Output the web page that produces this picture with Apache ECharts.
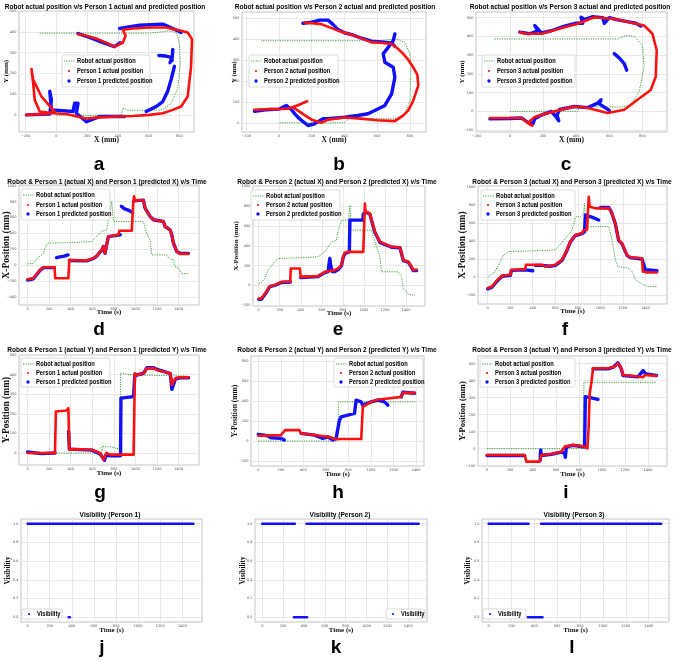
<!DOCTYPE html>
<html><head><meta charset="utf-8">
<script src="https://cdn.jsdelivr.net/npm/echarts@6/dist/echarts.min.js"></script>
<style>html,body{margin:0;padding:0;background:#fff}#c{width:685px;height:661px}</style>
</head><body><div id="c"></div>
<script>
// ---------- tick labels ----------
const X_TICKS_XY = [-200, 0, 200, 400, 600, 800];
const Y_TICKS_XY_AB = [0, 100, 200, 300, 400, 500];
const Y_TICKS_XY_C = [-100, 0, 100, 200, 300, 400, 500];
const T_TICKS = [0, 200, 400, 600, 800, 1000, 1200, 1400];
const XPOS_TICKS_D = [-400, -200, 0, 200, 400, 600, 800, 1000];
const XPOS_TICKS_EF = [-200, 0, 200, 400, 600, 800, 1000];
const YPOS_TICKS_G = [0, 100, 200, 300, 400, 500];
const YPOS_TICKS_H = [-200, 0, 200, 400, 600, 800];
const YPOS_TICKS_I = [-100, 0, 100, 200, 300, 400, 500];
const VIS_TICKS = [0, 0.2, 0.4, 0.6, 0.8, 1.0];

// ---------- panel a/b/c : X-Y trajectories ----------
const robotXY_a = [[0,0],[420,0],[432,34],[470,24],[692,26],[746,58],[790,130],[806,250],[800,340],[785,390],[765,400],[730,405],[690,400],[600,394],[300,394],[-108,394]];
const p1ActualXY = [[-195,2],[-65,6],[-11,18],[-97,90],[-151,171],[-162,222],[-151,155],[-141,74],[-108,18],[-22,10],[65,6],[162,-10],[195,-15],[281,-10],[389,-6],[497,-3],[605,2],[692,10],[757,26],[811,42],[854,90],[876,235],[882,365],[854,397],[811,405],[713,421],[605,421],[497,416],[432,410],[450,381],[432,348],[378,329],[324,348],[259,368],[195,381],[141,389]];
const p1PredXY = [[-195,2],[-43,6],[-32,74],[-43,115],[-32,26],[108,18],[119,58],[141,58],[130,10],[195,-31],[281,-6],[443,-6],null,
  [584,18],[649,42],[692,66],[724,115],[746,171],[768,235],null,
  [666,287],[713,284],[752,276],[739,252],null,[752,262],[757,316],null,
  [411,416],[541,432],[692,437],[757,416],[811,397],null,
  [141,392],[216,373],[303,348],[378,329],[415,348]];

const robotXY_b = [[4,0],[402,0],[443,35],[470,20],[708,19],[769,43],[800,106],[806,265],[800,329],[769,384],[718,400],[606,392],[-108,392]];
const p2ActualXY = [[-149,62],[-50,65],[55,67],[120,85],[172,103],[120,85],[86,75],[150,40],[200,15],[259,0],[300,15],[402,25],[500,20],[600,12],[708,8],[760,35],[790,59],[820,106],[851,178],[845,230],[820,265],[790,300],[759,329],[729,352],[688,376],[620,382],[565,384],[463,416],[361,440],[259,471],[157,479]];
const p2PredXY = [[-149,55],[-80,62],[0,65],[45,83],[80,60],[100,40],[116,27],[140,10],[178,-13],[218,-5],[269,20],[300,20],[402,27],[480,35],[545,43],[647,83],[688,138],[708,217],[698,265],[647,289],[637,329],[667,360],[698,392],[708,424],null,
  [708,365],[690,380],[640,385],[565,390],[500,405],[450,420],[400,430],[361,445],[330,470],[300,490],[250,490],[200,480],[147,475]];

const robotXY_c = [[0,0],[410,0],[420,26],[670,23],[730,35],[780,105],[810,238],[800,352],[750,400],[700,405],[650,386],[-100,386]];
const p3ActualXY = [[-120,-35],[0,-35],[70,-35],[100,-55],[120,-70],[136,-76],[110,-60],[150,-30],[190,-18],[270,0],[390,26],[470,18],[590,-9],[690,9],[770,62],[850,114],[880,185],[886,326],[860,414],[810,458],[750,470],[630,493],[510,502],[410,467],[330,449],[190,414],[90,414],[60,423]];
const p3PredXY = [[-120,-40],[0,-38],[70,-35],[110,-60],[140,-65],[150,-40],[190,-20],[250,0],[280,-30],[295,-50],[285,-20],[300,10],[390,26],[470,20],[530,44],[550,62],[540,40],[600,5],null,
  [630,308],[660,285],[690,255],[705,220],null,
  [790,455],[760,470],[700,480],[640,490],[600,500],[570,470],[560,500],[500,505],[450,490],[430,502],[440,470],[400,470],[330,455],[250,430],[190,418],[150,458],[170,430],[120,414],[60,423]];

// ---------- panel d/e/f : X position vs time ----------
const robot1X_t = [[0,17],[53,25],[99,101],[145,143],[161,215],[186,278],[400,285],[594,299],[641,362],[687,425],[734,446],[749,573],[780,804],[796,551],[1074,551],[1105,404],[1136,320],[1152,130],[1291,130],[1322,76],[1353,76],[1368,-17],[1399,-38],[1430,-101],[1492,-109]];
const p1ActualX_t = [[0,-177],[53,-164],[115,-59],[146,-25],[250,-25],[256,-164],[378,-164],[387,67],[548,59],[610,88],[641,118],[687,194],[703,236],[718,152],[749,362],[765,383],[842,383],[851,434],[966,434],[981,804],[987,867],[997,817],[1074,817],[1090,720],[1136,615],[1167,573],[1260,551],[1275,488],[1322,446],[1337,383],[1353,278],[1384,173],[1415,143],[1492,143]];
const p1PredX_t = [[0,-185],[53,-170],[115,-65],[146,-30],[250,-30],null,[269,95],[300,105],[340,115],[375,130],null,[387,60],[548,55],[610,85],[641,115],[687,190],[703,236],[718,150],[749,360],[765,380],[842,380],[860,383],null,[870,742],[900,710],[940,690],[975,665],null,[985,810],[1074,820],[1090,720],[1136,615],[1167,573],[1260,551],[1275,488],[1322,446],[1337,383],[1353,278],[1384,173],[1415,150],[1492,150]];

const robot2X_t = [[0,20],[25,27],[57,71],[89,155],[137,222],[184,272],[400,280],[565,289],[629,339],[692,440],[740,457],[756,558],[787,659],[855,659],[867,810],[876,558],[1073,558],[1105,440],[1152,289],[1168,138],[1327,138],[1359,87],[1375,-30],[1422,-87],[1486,-101]];
const p2ActualX_t = [[0,-131],[25,-131],[73,-64],[105,-7],[152,3],[184,20],[216,37],[300,37],[305,171],[391,171],[400,87],[565,94],[629,138],[724,155],[756,171],[787,205],[803,289],[819,329],[851,339],[994,339],[1010,827],[1016,743],[1057,726],[1073,659],[1105,541],[1137,474],[1152,440],[1264,390],[1343,383],[1375,255],[1422,239],[1454,188],[1470,155],[1502,161]];
const p2PredX_t = [[0,-140],[25,-140],[73,-70],[105,-12],[152,0],[184,15],[216,30],[300,35],null,[400,80],[565,90],[629,130],[660,140],[672,150],[676,272],[685,200],[700,140],[724,140],[756,160],[787,200],[803,280],[819,320],[840,330],[862,340],[867,659],[990,659],[995,720],[1016,740],[1057,720],[1073,655],[1105,535],[1137,470],[1152,435],[1264,385],[1343,380],[1375,250],[1422,235],[1454,180],[1470,150],[1502,150]];

const robot3X_t = [[0,0],[9,15],[53,44],[98,136],[142,246],[186,283],[400,290],[601,301],[645,367],[689,429],[749,521],[784,668],[823,668],[850,700],[861,815],[867,558],[1074,558],[1104,411],[1133,191],[1157,117],[1252,99],[1281,62],[1311,-29],[1355,-66],[1414,-103],[1503,-103]];
const p3ActualX_t = [[0,-121],[38,-103],[83,-37],[127,15],[201,26],[210,81],[334,88],[340,136],[482,136],[512,117],[556,125],[601,136],[660,191],[704,301],[734,393],[778,466],[837,484],[852,521],[882,521],[897,888],[905,778],[956,760],[1074,760],[1104,705],[1133,595],[1163,411],[1192,374],[1237,246],[1266,220],[1370,209],[1378,62],[1414,51],[1503,51]];
const p3PredX_t = [[0,-130],[38,-110],[83,-45],[127,10],[201,20],[210,75],[334,80],[340,75],[400,70],null,[420,130],[482,130],[556,120],[601,130],[660,185],[704,295],[734,390],[778,460],[837,480],[860,500],[867,686],[930,660],[985,631],null,[1000,770],[1074,770],[1090,740],[1104,700],[1133,590],[1163,405],[1192,370],[1237,240],[1266,215],[1370,200],[1385,191],[1400,81],[1414,70],[1503,70]];

// ---------- panel g/h/i : Y position vs time ----------
const robot1Y_t = [[0,0],[688,0],[690,34],[780,30],[859,20],[862,407],[983,398],[1479,393]];
const p1ActualY_t = [[0,0],[254,0],[262,212],[363,217],[378,229],[387,17],[409,20],[595,17],[611,8],[673,0],[704,-34],[729,0],[766,-8],[983,-8],[995,407],[1014,398],[1076,407],[1107,432],[1169,432],[1200,424],[1262,415],[1324,407],[1339,347],[1371,381],[1417,386],[1494,386]];
const p1PredY_t = [[0,5],[130,-3],[254,0],null,[380,110],[387,20],[595,15],[673,-5],[713,-37],[729,-10],[766,-14],[862,-14],[866,280],[983,288],[995,400],[1014,398],[1076,407],[1107,435],[1169,435],[1200,426],[1262,417],[1324,405],[1339,325],[1371,378],[1417,384],[1494,384]];

const robot2Y_t = [[0,0],[705,0],[711,393],[1401,393]];
const p2ActualY_t = [[0,53],[201,60],[237,110],[364,110],[379,77],[498,60],[616,43],[646,37],[676,20],[913,20],[927,343],[942,360],[1001,393],[1061,417],[1150,427],[1268,443],[1283,483],[1387,483]];
const p2PredY_t = [[0,67],[83,53],[112,33],[201,27],[231,10],null,[379,77],[498,60],[572,27],[616,43],[661,10],[690,27],[720,210],[735,243],[853,277],[868,410],[913,393],[927,360],[942,360],[1001,393],[1061,410],[1120,393],[1150,360],null,[1268,443],[1283,490],[1387,480]];

const robot3Y_t = [[0,0],[835,0],[843,390],[1467,390]];
const p3ActualY_t = [[0,-37],[328,-37],[342,-76],[458,-76],[473,-37],[560,-31],[646,-18],[676,12],[748,22],[849,12],[873,2],[884,129],[893,326],[907,384],[922,473],[1052,473],[1110,482],[1139,502],[1168,473],[1183,433],[1313,424],[1357,420],[1371,433],[1473,428]];
const p3PredY_t = [[0,-40],[328,-40],null,[462,-70],[467,-8],[473,-40],[560,-33],[646,-20],[676,-27],[681,-51],[690,10],[748,20],[849,10],[855,306],[965,290],null,[922,470],[1052,470],[1100,480],[1139,505],[1168,470],[1183,430],[1313,422],[1357,459],[1380,440],[1473,430]];

// ---------- panel j/k/l : visibility (start, end, value) ----------
const vis1 = [[0,1500,1],[372,382,0]];
const vis2 = [[0,312,1],[303,430,0],[424,1500,1]];
const vis3 = [[0,349,1],[343,471,0],[459,1510,1]];

// ---------- text ----------
const LETTERS = ['a','b','c','d','e','f','g','h','i','j','k','l'];
const TITLES = [
 'Robot actual position v/s Person 1 actual and predicted position',
 'Robot actual position v/s Person 2 actual and predicted position',
 'Robot actual position v/s Person 3 actual and predicted position',
 'Robot & Person 1 (actual X) and Person 1 (predicted X) v/s Time',
 'Robot & Person 2 (actual X) and Person 2 (predicted X) v/s Time',
 'Robot & Person 3 (actual X) and Person 3 (predicted X) v/s Time',
 'Robot & Person 1 (actual Y) and Person 1 (predicted Y) v/s Time',
 'Robot & Person 2 (actual Y) and Person 2 (predicted Y) v/s Time',
 'Robot & Person 3 (actual Y) and Person 3 (predicted Y) v/s Time',
 'Visibility (Person 1)','Visibility (Person 2)','Visibility (Person 3)'];

// ---------- styling / layout ----------
const SANS = '"Liberation Sans",Arial,sans-serif';
const SERIF = '"Liberation Serif","DejaVu Serif",serif';
const RED = '#ff1010', BLUE = '#1010ff', GREEN = '#3f9f3f';

const P = [
 {l:19,t:11,w:175,h:121,x:[-243,895],y:[-80,500],xt:X_TICKS_XY,yt:Y_TICKS_XY_AB,xn:'X (mm)',yn:'Y (mm)',xf:7.5,yf:7,xg:4,yg:9,tx:105,ty:7,lg:[62,55,88,32],lx:99,ly:165},
 {l:242,t:12,w:184,h:120,x:[-225,898],y:[-44,529],xt:X_TICKS_XY,yt:Y_TICKS_XY_AB,xn:'X (mm)',yn:'Y (mm)',xf:7.5,yf:6.5,xg:4,yg:4,tx:335,ty:7,lg:[249,55,89,32],lx:339,ly:165},
 {l:476,t:12,w:191,h:120,x:[-204,948],y:[-110,530],xt:X_TICKS_XY,yt:Y_TICKS_XY_C,xn:'X (mm)',yn:'Y (mm)',xf:7.5,yf:7,xg:4,yg:10,tx:570,ty:7,lg:[482,55,93,32],lx:566,ly:165},
 {l:19,t:185,w:180,h:120,x:[-80,1590],y:[-500,1010],xt:T_TICKS,yt:XPOS_TICKS_D,xn:'Time (s)',yn:'X-Position (mm)',xf:7,yf:9.5,xg:4,yg:7,tx:107,ty:182,lg:[21,189,89,31],lx:99,ly:330},
 {l:253,t:186,w:172,h:120,x:[-54,1581],y:[-207,1003],xt:T_TICKS,yt:XPOS_TICKS_EF,xn:'Time (s)',yn:'X-Position (mm)',xf:7,yf:7,xg:4,yg:13,tx:337,ty:182,lg:[251,190,89,30],lx:338,ly:330},
 {l:478,t:186,w:189,h:118,x:[-86,1592],y:[-297,1007],xt:T_TICKS,yt:XPOS_TICKS_EF,xn:'Time (s)',yn:'X-Position (mm)',xf:7,yf:9.5,xg:4,yg:10,tx:572,ty:182,lg:[481,190,94,30],lx:565,ly:330},
 {l:19,t:355,w:180,h:110,x:[-80,1590],y:[-61,500],xt:T_TICKS,yt:YPOS_TICKS_G,xn:'Time (s)',yn:'Y-Position (mm)',xf:7,yf:9.5,xg:5,yg:7,tx:107,ty:350,lg:[21,358,89,29],lx:100,ly:493},
 {l:251,t:356,w:173,h:110,x:[-65,1470],y:[-250,853],xt:T_TICKS,yt:YPOS_TICKS_H,xn:'Time (s)',yn:'Y-Position (mm)',xf:7,yf:7.5,xg:5,yg:12,tx:337,ty:350,lg:[334,358,89,29],lx:338,ly:493},
 {l:478,t:356,w:189,h:110,x:[-78,1565],y:[-102,545],xt:T_TICKS,yt:YPOS_TICKS_I,xn:'Time (s)',yn:'Y-Position (mm)',xf:7,yf:8.5,xg:5,yg:11,tx:572,ty:350,lg:[480,358,95,29],lx:566,ly:493},
 {l:21,t:519,w:181,h:103,x:[-60,1578],y:[-0.05,1.05],xt:T_TICKS,yt:VIS_TICKS,xn:'Time (s)',yn:'Visibility',xf:7,yf:7.3,xg:5,yg:9,tx:110,ty:515,lg:[22,609,40,10],lx:102,ly:648},
 {l:255,t:519,w:172,h:103,x:[-70,1580],y:[-0.05,1.05],xt:T_TICKS,yt:VIS_TICKS,xn:'Time (s)',yn:'Visibility',xf:7,yf:7.3,xg:5,yg:8,tx:340,ty:515,lg:[386,609,39,10],lx:336,ly:648},
 {l:482,t:519,w:187,h:103,x:[-58,1578],y:[-0.05,1.05],xt:T_TICKS,yt:VIS_TICKS,xn:'Time (s)',yn:'Visibility',xf:7,yf:7.3,xg:5,yg:10,tx:574,ty:515,lg:[483,609,43,10],lx:572,ly:648}
];

const PANEL_DATA = [
 [robotXY_a, p1ActualXY, p1PredXY, 1], [robotXY_b, p2ActualXY, p2PredXY, 2], [robotXY_c, p3ActualXY, p3PredXY, 3],
 [robot1X_t, p1ActualX_t, p1PredX_t, 1], [robot2X_t, p2ActualX_t, p2PredX_t, 2], [robot3X_t, p3ActualX_t, p3PredX_t, 3],
 [robot1Y_t, p1ActualY_t, p1PredY_t, 1], [robot2Y_t, p2ActualY_t, p2PredY_t, 2], [robot3Y_t, p3ActualY_t, p3PredY_t, 3]
];
const VIS = [vis1, vis2, vis3];

const grids = [], xAxes = [], yAxes = [], series = [], graphics = [];

function legendBox(p, entries) {
  const [L, T, W, H] = p.lg;
  const Z = 100;
  graphics.push({type:'rect', z:Z, shape:{x:L, y:T, width:W, height:H, r:2}, style:{fill:'#ffffff', stroke:'#d2d2d2', lineWidth:0.8}});
  const rowH = (H - 2) / entries.length;
  entries.forEach((e, k) => {
    const cy = Math.round(T + 1 + rowH * (k + 0.5));
    const cx = L + 7;
    if (e.kind === 'dotted') graphics.push({type:'line', z:Z+1, shape:{x1:L+2, y1:cy, x2:L+12.5, y2:cy}, style:{stroke:GREEN, lineWidth:1, lineDash:[1.2,1.2]}});
    else graphics.push({type:'circle', z:Z+1, shape:{cx, cy, r:e.kind === 'big' ? 1.7 : 1.1}, style:{fill:e.color}});
    graphics.push({type:'text', z:Z+2, x:L+15, y:cy, scaleX:0.82, style:{text:e.text, font:'bold 7px ' + SANS, fill:'#000', align:'left', verticalAlign:'middle'}});
  });
}

P.forEach((p, i) => {
  const isVis = i >= 9;
  grids.push({left:p.l, top:p.t, width:p.w, height:p.h, show:true, borderColor:'#c4c4c4', borderWidth:1, backgroundColor:'#fff', containLabel:false, outerBoundsMode:'none'});
  xAxes.push({gridIndex:i, type:'value', min:p.x[0], max:p.x[1], name:p.xn, nameLocation:'middle', nameGap:p.xg, nameMoveOverlap:false,
    nameTextStyle:{fontFamily:SERIF, fontWeight:'bold', fontSize:p.xf, color:'#111', verticalAlign:'top'},
    axisLine:{show:false}, axisTick:{show:false, customValues:p.xt},
    axisLabel:{customValues:p.xt, fontSize:3.5, color:'#555', margin:2.5, fontFamily:'DejaVu Sans', formatter:(v)=>String(v).replace('-', '\u2212')},
    splitLine:{show:true, lineStyle:{color:'#e2e2e2', width:0.8}}});
  yAxes.push({gridIndex:i, type:'value', min:p.y[0], max:p.y[1], name:p.yn, nameLocation:'middle', nameGap:p.yg, nameRotate:90, nameMoveOverlap:false,
    nameTextStyle:{fontFamily:SERIF, fontWeight:'bold', fontSize:p.yf, color:'#111'},
    axisLine:{show:false}, axisTick:{show:false, customValues:p.yt},
    axisLabel:{customValues:p.yt, fontSize:3.5, color:'#555', margin:2.5, fontFamily:'DejaVu Sans', formatter:(v)=> isVis ? v.toFixed(1) : String(v).replace('-', '\u2212')},
    splitLine:{show:true, lineStyle:{color:'#e2e2e2', width:0.8}}});
  // title (bold, slightly condensed like the source)
  graphics.push({type:'text', x:p.tx, y:p.ty, scaleX:0.82, z:100, style:{text:TITLES[i], font:'bold 8px ' + SANS, fill:'#000', align:'center', verticalAlign:'middle'}});
  // panel letter
  graphics.push({type:'text', x:p.lx, y:p.ly, z:100, style:{text:LETTERS[i], font:'bold 19px ' + SANS, fill:'#000', align:'center', verticalAlign:'middle'}});

  if (!isVis) {
    const [rob, act, pred, n] = PANEL_DATA[i];
    const rn = 'Robot actual position', an = `Person ${n} actual position`, pn = `Person ${n} predicted position`;
    series.push({type:'line', name:rn, xAxisIndex:i, yAxisIndex:i, data:rob, symbol:'none', connectNulls:false, animation:false, silent:true, z:2,
      itemStyle:{color:GREEN}, lineStyle:{color:GREEN, width:1, type:[1.2,1.2]}});
    series.push({type:'line', name:pn, xAxisIndex:i, yAxisIndex:i, data:pred, symbol:'none', connectNulls:false, animation:false, silent:true, z:3,
      itemStyle:{color:BLUE}, lineStyle:{color:BLUE, width:3.4, cap:'round', join:'round'}});
    series.push({type:'line', name:an, xAxisIndex:i, yAxisIndex:i, data:act, symbol:'none', connectNulls:false, animation:false, silent:true, z:4,
      itemStyle:{color:RED}, lineStyle:{color:RED, width:2.6, cap:'round', join:'round'}});
    legendBox(p, [{kind:'dotted', text:rn}, {kind:'small', color:RED, text:an}, {kind:'big', color:BLUE, text:pn}]);
  } else {
    const segs = VIS[i-9];
    const data = [];
    segs.forEach((s, k) => { if (k) data.push(null); data.push([s[0], s[2]]); data.push([s[1], s[2]]); });
    series.push({type:'line', name:'Visibility', xAxisIndex:i, yAxisIndex:i, data, symbol:'none', connectNulls:false, animation:false, silent:true, z:3,
      itemStyle:{color:BLUE}, lineStyle:{color:BLUE, width:2.6, cap:'round'}});
    legendBox(p, [{kind:'small', color:BLUE, text:'Visibility'}]);
  }
});

const chart = echarts.init(document.getElementById('c'), null, {renderer:'canvas'});
chart.setOption({backgroundColor:'#fff', animation:false, grid:grids, xAxis:xAxes, yAxis:yAxes, series, graphic:{elements:graphics}});
</script>
</body></html>
